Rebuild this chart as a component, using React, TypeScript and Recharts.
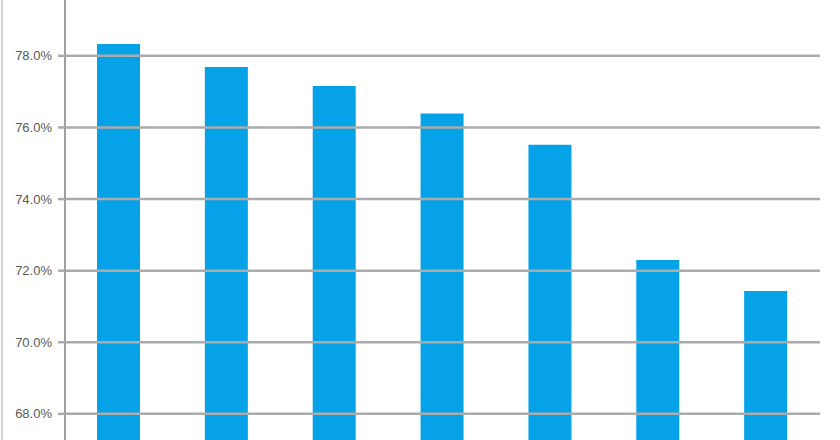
import React from 'react';
import { BarChart, Bar, XAxis, YAxis, ReferenceLine } from 'recharts';

const categories = ['A', 'B', 'C', 'D', 'E', 'F', 'G'];
const values = [78.33, 77.69, 77.16, 76.39, 75.52, 72.3, 71.43];
const yTicks = [68, 70, 72, 74, 76, 78];

const data = categories.map((name, i) => ({ name, value: values[i] }));

const App: React.FC = () => {
    return (
        <div style={{ position: 'absolute', left: 0, top: 0, width: 840, height: 440, background: '#fff', overflow: 'hidden' }}>
            <div style={{ position: 'absolute', left: 1, top: 0, width: 2, height: 440, background: '#d4d4d4' }} />
            <BarChart
                width={840}
                height={440}
                data={data}
                margin={{ top: 0, right: 20, bottom: 0, left: 0 }}
                barCategoryGap={0}
            >
                <XAxis dataKey="name" hide />
                <YAxis
                    width={65}
                    domain={[67.27, 79.56]}
                    ticks={yTicks}
                    allowDataOverflow
                    tickFormatter={(v: number) => `${v.toFixed(1)}%`}
                    tick={{ fill: '#5a5a5a', fontSize: 13, fontFamily: 'Liberation Sans, Arial, sans-serif' }}
                    tickSize={7}
                    tickMargin={6}
                    tickLine={{ stroke: '#ababab', strokeWidth: 2.5 }}
                    axisLine={{ stroke: '#a0a0a0', strokeWidth: 2 }}
                />
                {yTicks.map((t) => (
                    <ReferenceLine key={`grid-${t}`} y={t} stroke="#ababab" strokeWidth={2.5} />
                ))}
                <Bar dataKey="value" fill="#06a2e7" barSize={43} isAnimationActive={false} />
            </BarChart>
        </div>
    );
};

export default App;
